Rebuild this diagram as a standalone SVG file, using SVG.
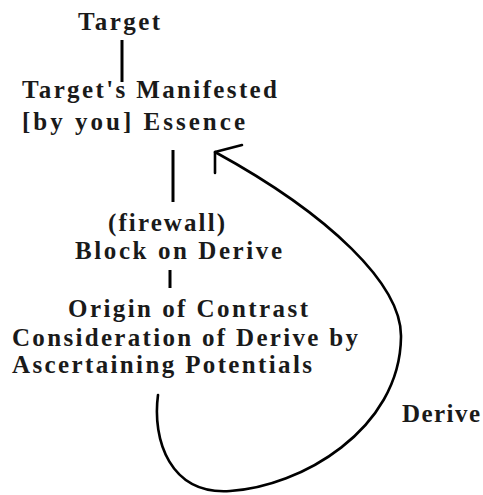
<svg xmlns="http://www.w3.org/2000/svg" width="483" height="495" viewBox="0 0 483 495">
<style>
.t{font-family:"Liberation Serif","Times New Roman",serif;font-weight:bold;font-size:25px;fill:#1a1a1a;}
.c{stroke:#000;stroke-width:3;fill:none;stroke-linecap:butt;}
.cv{stroke:#000;stroke-width:2.6;fill:none;stroke-linecap:round;stroke-linejoin:round;}
</style>
<rect width="483" height="495" fill="#fff"/>
<g id="connectors">
<line class="c" x1="122" y1="40" x2="122" y2="82"/>
<line class="c" x1="173" y1="150" x2="173" y2="202"/>
<line class="c" x1="170" y1="270" x2="170" y2="288"/>
<path class="cv" d="M158,395 C152,440 170,495 230,491 C300,487 400,430 401,337 C402,285 330,215 215,152"/>
<path class="cv" d="M215,173 L215,152 L242,145"/>
</g>
<g id="target"><text class="t" x="78" y="30" textLength="82" lengthAdjust="spacing">Target</text></g>
<g id="essence">
<text class="t" x="22" y="98" textLength="255" lengthAdjust="spacing">Target's Manifested</text>
<text class="t" x="22" y="130" textLength="223" lengthAdjust="spacing">[by you] Essence</text>
</g>
<g id="firewall">
<text class="t" x="108" y="231" textLength="117" lengthAdjust="spacing">(firewall)</text>
<text class="t" x="75" y="259" textLength="207" lengthAdjust="spacing">Block on Derive</text>
</g>
<g id="origin">
<text class="t" x="68" y="317" textLength="240" lengthAdjust="spacing">Origin of Contrast</text>
<text class="t" x="12" y="346" textLength="346" lengthAdjust="spacing">Consideration of Derive by</text>
<text class="t" x="12" y="373" textLength="300" lengthAdjust="spacing">Ascertaining Potentials</text>
</g>
<g id="derive-label"><text class="t" x="402" y="422" textLength="78" lengthAdjust="spacing">Derive</text></g>
</svg>
